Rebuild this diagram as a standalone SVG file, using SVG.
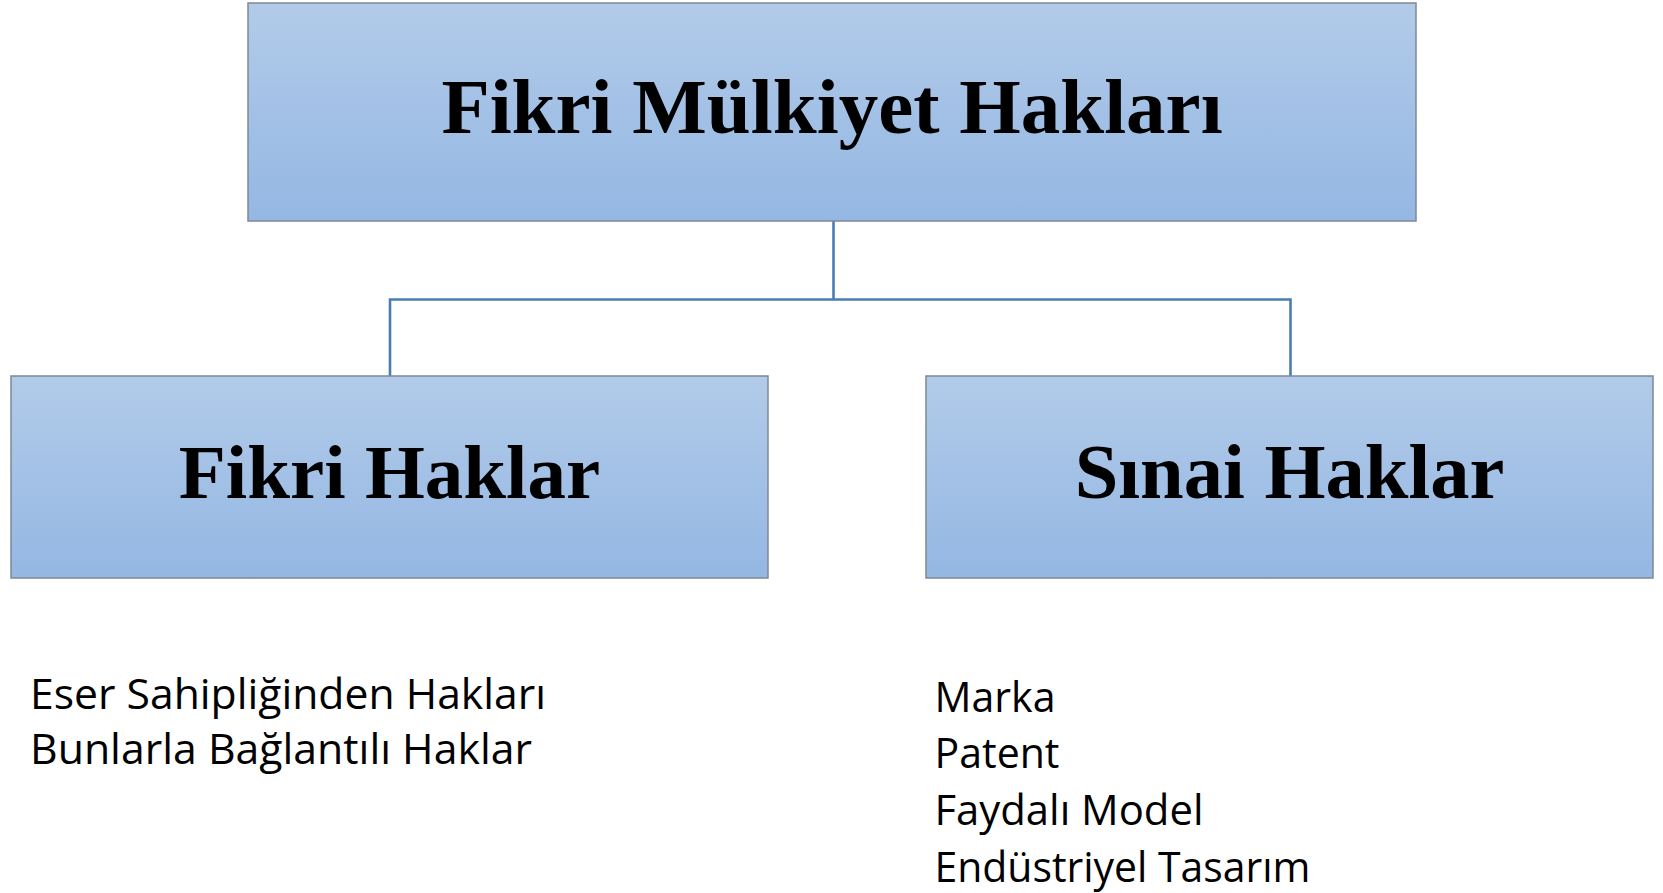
<svg xmlns="http://www.w3.org/2000/svg" width="1663" height="893" viewBox="0 0 1663 893">
<defs>
<linearGradient id="boxGrad" x1="0" y1="0" x2="0" y2="1">
<stop offset="0" stop-color="#B2CBE9"/>
<stop offset="1" stop-color="#94B7E3"/>
</linearGradient>
<style>
.box{fill:url(#boxGrad);stroke:#7D8896;stroke-width:1.5}
.head{font-family:"Liberation Serif","Times New Roman",serif;font-weight:bold;fill:#000;text-anchor:middle}
.item{font-family:"Open Sans","Noto Sans",sans-serif;font-size:42px;fill:#000}
.conn{fill:none;stroke:#4A7DB5;stroke-width:2.6}
</style>
</defs>
<rect width="1663" height="893" fill="#FFFFFF"/>
<g id="connectors">
<path class="conn" d="M833.5 221 V299.5 M390 376 V299.5 H1290.5 V376"/>
</g>
<g id="node-fikri-mulkiyet">
<rect class="box" x="248" y="3" width="1168" height="218"/>
<text class="head" x="832" y="133" font-size="79">Fikri Mülkiyet Hakları</text>
</g>
<g id="node-fikri-haklar">
<rect class="box" x="11" y="376" width="757" height="202"/>
<text class="head" x="389.5" y="498" font-size="77">Fikri Haklar</text>
</g>
<g id="node-sinai-haklar">
<rect class="box" x="926" y="376" width="727" height="202"/>
<text class="head" x="1289.5" y="498" font-size="78.5">Sınai Haklar</text>
</g>
<g id="list-fikri">
<text class="item" x="30" y="709" textLength="516" lengthAdjust="spacingAndGlyphs">Eser Sahipliğinden Hakları</text>
<text class="item" x="30" y="764" textLength="502" lengthAdjust="spacingAndGlyphs">Bunlarla Bağlantılı Haklar</text>
</g>
<g id="list-sinai">
<text class="item" x="934.5" y="712" textLength="121" lengthAdjust="spacingAndGlyphs">Marka</text>
<text class="item" x="934.5" y="768" textLength="125" lengthAdjust="spacingAndGlyphs">Patent</text>
<text class="item" x="934.5" y="825" textLength="269" lengthAdjust="spacingAndGlyphs">Faydalı Model</text>
<text class="item" x="934.5" y="882" textLength="376" lengthAdjust="spacingAndGlyphs">Endüstriyel Tasarım</text>
</g>
</svg>
